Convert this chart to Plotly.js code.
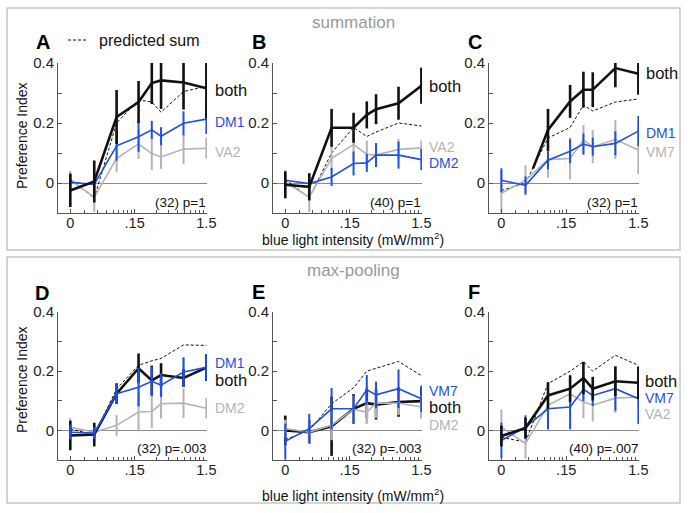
<!DOCTYPE html>
<html>
<head>
<meta charset="utf-8">
<script src="https://cdn.plot.ly/plotly-3.0.1.min.js"></script>
<style>html,body{margin:0;padding:0;background:#fff}#chart{width:690px;height:513px}</style>
</head>
<body>
<div id="chart"></div>
<script>
// ---------- data ----------
const intensity = [0.019, 0.041, 0.084, 0.17, 0.26, 0.35, 0.72, 1.5]; // first point = "0"
const intensityBothC = [0.052, 0.084, 0.17, 0.26, 0.35, 0.72, 1.5];
const xTickVals = [0.019, 0.15, 1.5];
const xTickText = ['0', '.15', '1.5'];
const yTickVals = [0, 0.2, 0.4];
const yTickText = ['0', '0.2', '0.4'];

// Panel A (summation)
const bothA = [-0.025, 0.005, 0.22, 0.27, 0.333, 0.342, 0.335, 0.316];
const bothAErr = [0.055, 0.07, 0.09, 0.07, 0.07, 0.095, 0.09, 0.1];
const dm1A = [0.003, -0.005, 0.124, 0.154, 0.177, 0.156, 0.199, 0.213];
const dm1AErr = [0.03, 0.02, 0.05, 0.05, 0.03, 0.03, 0.04, 0.05];
const va2A = [0.01, -0.047, 0.082, 0.13, 0.098, 0.087, 0.113, 0.116];
const va2AErr = [0.03, 0.05, 0.045, 0.05, 0.055, 0.04, 0.05, 0.035];
const sumA = [0.013, -0.05, 0.2, 0.277, 0.27, 0.236, 0.305, 0.322];

// Panel B
const bothB = [-0.006, -0.013, 0.184, 0.184, 0.227, 0.246, 0.266, 0.324];
const bothBErr = [0.045, 0.045, 0.063, 0.05, 0.045, 0.05, 0.055, 0.06];
const dm2B = [0.009, -0.002, 0.02, 0.065, 0.067, 0.093, 0.093, 0.078];
const dm2BErr = [0.02, 0.035, 0.03, 0.04, 0.03, 0.04, 0.045, 0.035];
const va2B = [0.003, -0.047, 0.082, 0.128, 0.096, 0.093, 0.112, 0.117];
const va2BErr = [0.04, 0.05, 0.045, 0.055, 0.045, 0.035, 0.035, 0.025];
const sumB = [0.012, -0.049, 0.1, 0.185, 0.155, 0.17, 0.2, 0.19];

// Panel C
const bothC = [0.048, 0.177, 0.272, 0.311, 0.311, 0.383, 0.364];
const bothCErr = [0, 0.07, 0.055, 0.06, 0.058, 0.064, 0.07];
const dm1C = [0.009, -0.008, 0.076, 0.106, 0.13, 0.121, 0.132, 0.173];
const dm1CErr = [0.04, 0.03, 0.03, 0.04, 0.035, 0.03, 0.04, 0.05];
const vm7C = [-0.034, 0.009, 0.078, 0.082, 0.143, 0.121, 0.145, 0.11];
const vm7CErr = [0.075, 0.05, 0.06, 0.07, 0.05, 0.055, 0.065, 0.08];
const sumC = [-0.025, 0.0, 0.15, 0.185, 0.26, 0.24, 0.27, 0.28];

// Panel D (max-pooling)
const bothD = [-0.017, -0.014, 0.124, 0.21, 0.169, 0.187, 0.177, 0.212];
const bothDErr = [0.05, 0.04, 0.035, 0.05, 0.05, 0.04, 0.03, 0.045];
const dm1D = [-0.006, -0.009, 0.124, 0.146, 0.166, 0.153, 0.197, 0.213];
const dm1DErr = [0.025, 0.02, 0.035, 0.065, 0.05, 0.04, 0.05, 0.045];
const dm2D = [0.011, -0.006, 0.017, 0.062, 0.064, 0.09, 0.092, 0.075];
const dm2DErr = [0.03, 0.02, 0.035, 0.065, 0.055, 0.05, 0.05, 0.035];
const sumD = [0.005, -0.015, 0.14, 0.22, 0.235, 0.243, 0.289, 0.287];

// Panel E
const bothE = [0.0, -0.006, 0.014, 0.073, 0.092, 0.087, 0.096, 0.099];
const bothEErr = [0.05, 0.04, 0.1, 0.05, 0.05, 0.05, 0.05, 0.045];
const vm7E = [-0.037, 0.006, 0.073, 0.073, 0.137, 0.12, 0.141, 0.107];
const vm7EErr = [0.06, 0.05, 0.07, 0.05, 0.05, 0.045, 0.065, 0.045];
const dm2E = [0.006, -0.006, 0.017, 0.071, 0.062, 0.092, 0.092, 0.079];
const dm2EErr = [0.03, 0.04, 0.05, 0.045, 0.04, 0.05, 0.04, 0.04];
const sumE = [-0.031, 0.0, 0.09, 0.144, 0.2, 0.21, 0.233, 0.185];

// Panel F
const bothF = [-0.019, 0.008, 0.118, 0.141, 0.177, 0.141, 0.166, 0.161];
const bothFErr = [0.035, 0.035, 0.045, 0.045, 0.055, 0.04, 0.05, 0.055];
const vm7F = [-0.034, 0.011, 0.073, 0.079, 0.139, 0.118, 0.141, 0.107];
const vm7FErr = [0.06, 0.04, 0.07, 0.075, 0.04, 0.035, 0.075, 0.085];
const va2F = [0.011, -0.045, 0.085, 0.124, 0.096, 0.085, 0.109, 0.113];
const va2FErr = [0.06, 0.05, 0.04, 0.065, 0.055, 0.055, 0.05, 0.04];
const sumF = [-0.023, -0.04, 0.158, 0.2, 0.232, 0.2, 0.254, 0.22];

const nLabels = ['(32) p=1', '(40) p=1', '(32) p=1', '(32) p=.003', '(32) p=.003', '(40) p=.007'];
const panelLetters = ['A', 'B', 'C', 'D', 'E', 'F'];

// ---------- styling ----------
const BLACK = '#111111', BLUE = '#1f4fe6', GRAY = '#b4b4b4';
const FONT = '"Liberation Sans", Arial, Helvetica, sans-serif';
const W = 690, H = 513;
const px = v => v / W;
const py = v => 1 - v / H;

function line(x, y, err, color, lw, ew, n, dash) {
  const t = {
    x: x, y: y, type: 'scatter', mode: 'lines',
    xaxis: 'x' + (n === 1 ? '' : n), yaxis: 'y' + (n === 1 ? '' : n),
    line: {color: color, width: lw, dash: dash || 'solid'},
    showlegend: false, hoverinfo: 'skip'
  };
  if (err) t.error_y = {type: 'data', array: err, visible: true, width: 0, thickness: ew, color: color};
  return t;
}

const traces = [
  // A
  line(intensity, sumA, null, BLACK, 1, 0, 1, '3px,2px'),
  line(intensity, va2A, va2AErr, GRAY, 1.6, 2, 1),
  line(intensity, dm1A, dm1AErr, BLUE, 1.6, 2, 1),
  line(intensity, bothA, bothAErr, BLACK, 2.6, 2.6, 1),
  // B
  line(intensity, sumB, null, BLACK, 1, 0, 2, '3px,2px'),
  line(intensity, va2B, va2BErr, GRAY, 1.6, 2, 2),
  line(intensity, dm2B, dm2BErr, BLUE, 1.6, 2, 2),
  line(intensity, bothB, bothBErr, BLACK, 2.6, 2.6, 2),
  // C
  line(intensity, sumC, null, BLACK, 1, 0, 3, '3px,2px'),
  line(intensity, vm7C, vm7CErr, GRAY, 1.6, 2, 3),
  line(intensity, dm1C, dm1CErr, BLUE, 1.6, 2, 3),
  line(intensityBothC, bothC, bothCErr, BLACK, 2.6, 2.6, 3),
  // D
  line(intensity, sumD, null, BLACK, 1, 0, 4, '3px,2px'),
  line(intensity, dm2D, dm2DErr, GRAY, 1.6, 2, 4),
  line(intensity, bothD, bothDErr, BLACK, 2.6, 2.6, 4),
  line(intensity, dm1D, dm1DErr, BLUE, 1.6, 2.2, 4),
  // E
  line(intensity, sumE, null, BLACK, 1, 0, 5, '3px,2px'),
  line(intensity, bothE, bothEErr, BLACK, 2.6, 2.6, 5),
  line(intensity, dm2E, dm2EErr, GRAY, 1.6, 2.6, 5),
  line(intensity, vm7E, vm7EErr, BLUE, 1.6, 2, 5),
  // F
  line(intensity, sumF, null, BLACK, 1, 0, 6, '3px,2px'),
  line(intensity, va2F, va2FErr, GRAY, 1.6, 2, 6),
  line(intensity, vm7F, vm7FErr, BLUE, 1.6, 2, 6),
  line(intensity, bothF, bothFErr, BLACK, 2.6, 2.6, 6)
];

// log minor ticks per decade starting at .015 and .15
const minorX = [];
[0.015, 0.15].forEach(b => { for (let k = 2; k <= 9; k++) minorX.push(+(b * k).toFixed(4)); });

const colsPx = [[58, 207], [273, 422], [489, 639]];
const rowsPx = [[63, 213], [312, 460]];

const layout = {
  width: W, height: H,
  margin: {l: 0, r: 0, t: 0, b: 0},
  paper_bgcolor: '#fff', plot_bgcolor: 'rgba(0,0,0,0)',
  font: {family: FONT, size: 14, color: '#222'},
  showlegend: false,
  annotations: [], shapes: []
};

function ann(x, y, text, size, color, xa, extra) {
  return Object.assign({
    xref: 'paper', yref: 'paper', x: px(x), y: py(y), text: text, showarrow: false,
    xanchor: xa || 'center', yanchor: 'middle', font: {family: FONT, size: size, color: color}
  }, extra || {});
}

for (let i = 0; i < 6; i++) {
  const n = i + 1;
  const c = colsPx[i % 3], r = rowsPx[Math.floor(i / 3)];
  const xs = 'xaxis' + (n === 1 ? '' : n), ys = 'yaxis' + (n === 1 ? '' : n);
  layout[xs] = {
    domain: [px(c[0]), px(c[1])], anchor: 'y' + (n === 1 ? '' : n),
    type: 'log', range: [Math.log10(0.0128), Math.log10(1.53)],
    tickmode: 'array', tickvals: xTickVals, ticktext: xTickText,
    ticks: 'inside', ticklen: 4, tickcolor: '#555', tickwidth: 1,
    ticklabelstandoff: -3,
    showline: true, linecolor: '#555', linewidth: 1,
    showgrid: false, zeroline: false,
    tickfont: {family: FONT, size: 14.5, color: '#222'},
    minor: {tickmode: 'array', tickvals: minorX, ticks: 'inside', ticklen: 3, tickcolor: '#555', showgrid: false}
  };
  layout[ys] = {
    domain: [py(r[1]), py(r[0])], anchor: 'x' + (n === 1 ? '' : n),
    range: [-0.1, 0.4],
    tickmode: 'array', tickvals: yTickVals, ticktext: yTickText,
    ticks: 'inside', ticklen: 4, tickcolor: '#555',
    showline: true, linecolor: '#555', linewidth: 1,
    showgrid: false,
    zeroline: true, zerolinecolor: '#8a8a8a', zerolinewidth: 1,
    tickfont: {family: FONT, size: 15, color: '#222'},
    minor: {tickmode: 'array', tickvals: [0.1, 0.3], ticks: 'inside', ticklen: 4, tickcolor: '#555', showgrid: false}
  };
  layout.annotations.push(ann([43, 259, 475, 42, 258, 474][i], [42, 42, 42, 293, 292, 292][i],
    '<b>' + panelLetters[i] + '</b>', 20, '#000'));
  layout.annotations.push(ann(c[1] + 1, r[0] === 63 ? 202 : 448, nLabels[i], 13.5, '#111', 'right'));
}

// series labels
const seriesLabels = [
  ['both', BLACK, 213, 90, 16.5], ['DM1', BLUE, 213, 122, 14], ['VA2', GRAY, 213, 152, 14],
  ['both', BLACK, 427, 86, 16.5], ['VA2', GRAY, 427, 147, 14], ['DM2', BLUE, 427, 163, 14],
  ['both', BLACK, 644, 73, 16.5], ['DM1', BLUE, 644, 133, 14], ['VM7', GRAY, 644, 152, 14],
  ['DM1', BLUE, 213, 363, 14], ['both', BLACK, 213, 380, 16.5], ['DM2', GRAY, 213, 408, 14],
  ['VM7', BLUE, 427, 391, 14], ['both', BLACK, 427, 407, 16.5], ['DM2', GRAY, 427, 425, 14],
  ['both', BLACK, 643, 381, 16.5], ['VM7', BLUE, 643, 398, 14], ['VA2', GRAY, 643, 414, 14]
];
seriesLabels.forEach(s => layout.annotations.push(ann(s[2], s[3], s[0], s[4], s[1], 'left')));

// section titles, axis titles
layout.annotations.push(
  ann(353, 22, 'summation', 17, '#999'),
  ann(353, 270, 'max-pooling', 17, '#999'),
  ann(353, 239.5, 'blue light intensity (mW/mm<sup>2</sup>)', 14, '#111'),
  ann(353, 494.5, 'blue light intensity (mW/mm<sup>2</sup>)', 14, '#111'),
  ann(22, 136, 'Preference Index', 14, '#111', 'center', {textangle: -90}),
  ann(22, 380, 'Preference Index', 14, '#111', 'center', {textangle: -90}),
  ann(97, 40, 'predicted sum', 16, '#111', 'left')
);

// outer panel boxes and legend sample
layout.shapes.push(
  {type: 'rect', xref: 'paper', yref: 'paper', x0: px(7), x1: px(680), y0: py(8), y1: py(250), line: {color: '#c6c6c6', width: 1.5}},
  {type: 'rect', xref: 'paper', yref: 'paper', x0: px(7), x1: px(680), y0: py(257), y1: py(503), line: {color: '#c6c6c6', width: 1.5}},
  {type: 'line', xref: 'paper', yref: 'paper', x0: px(68), x1: px(88), y0: py(40), y1: py(40), line: {color: '#111', width: 1, dash: '3px,2px'}}
);

Plotly.newPlot('chart', traces, layout, {staticPlot: true, displayModeBar: false});
</script>
</body>
</html>
